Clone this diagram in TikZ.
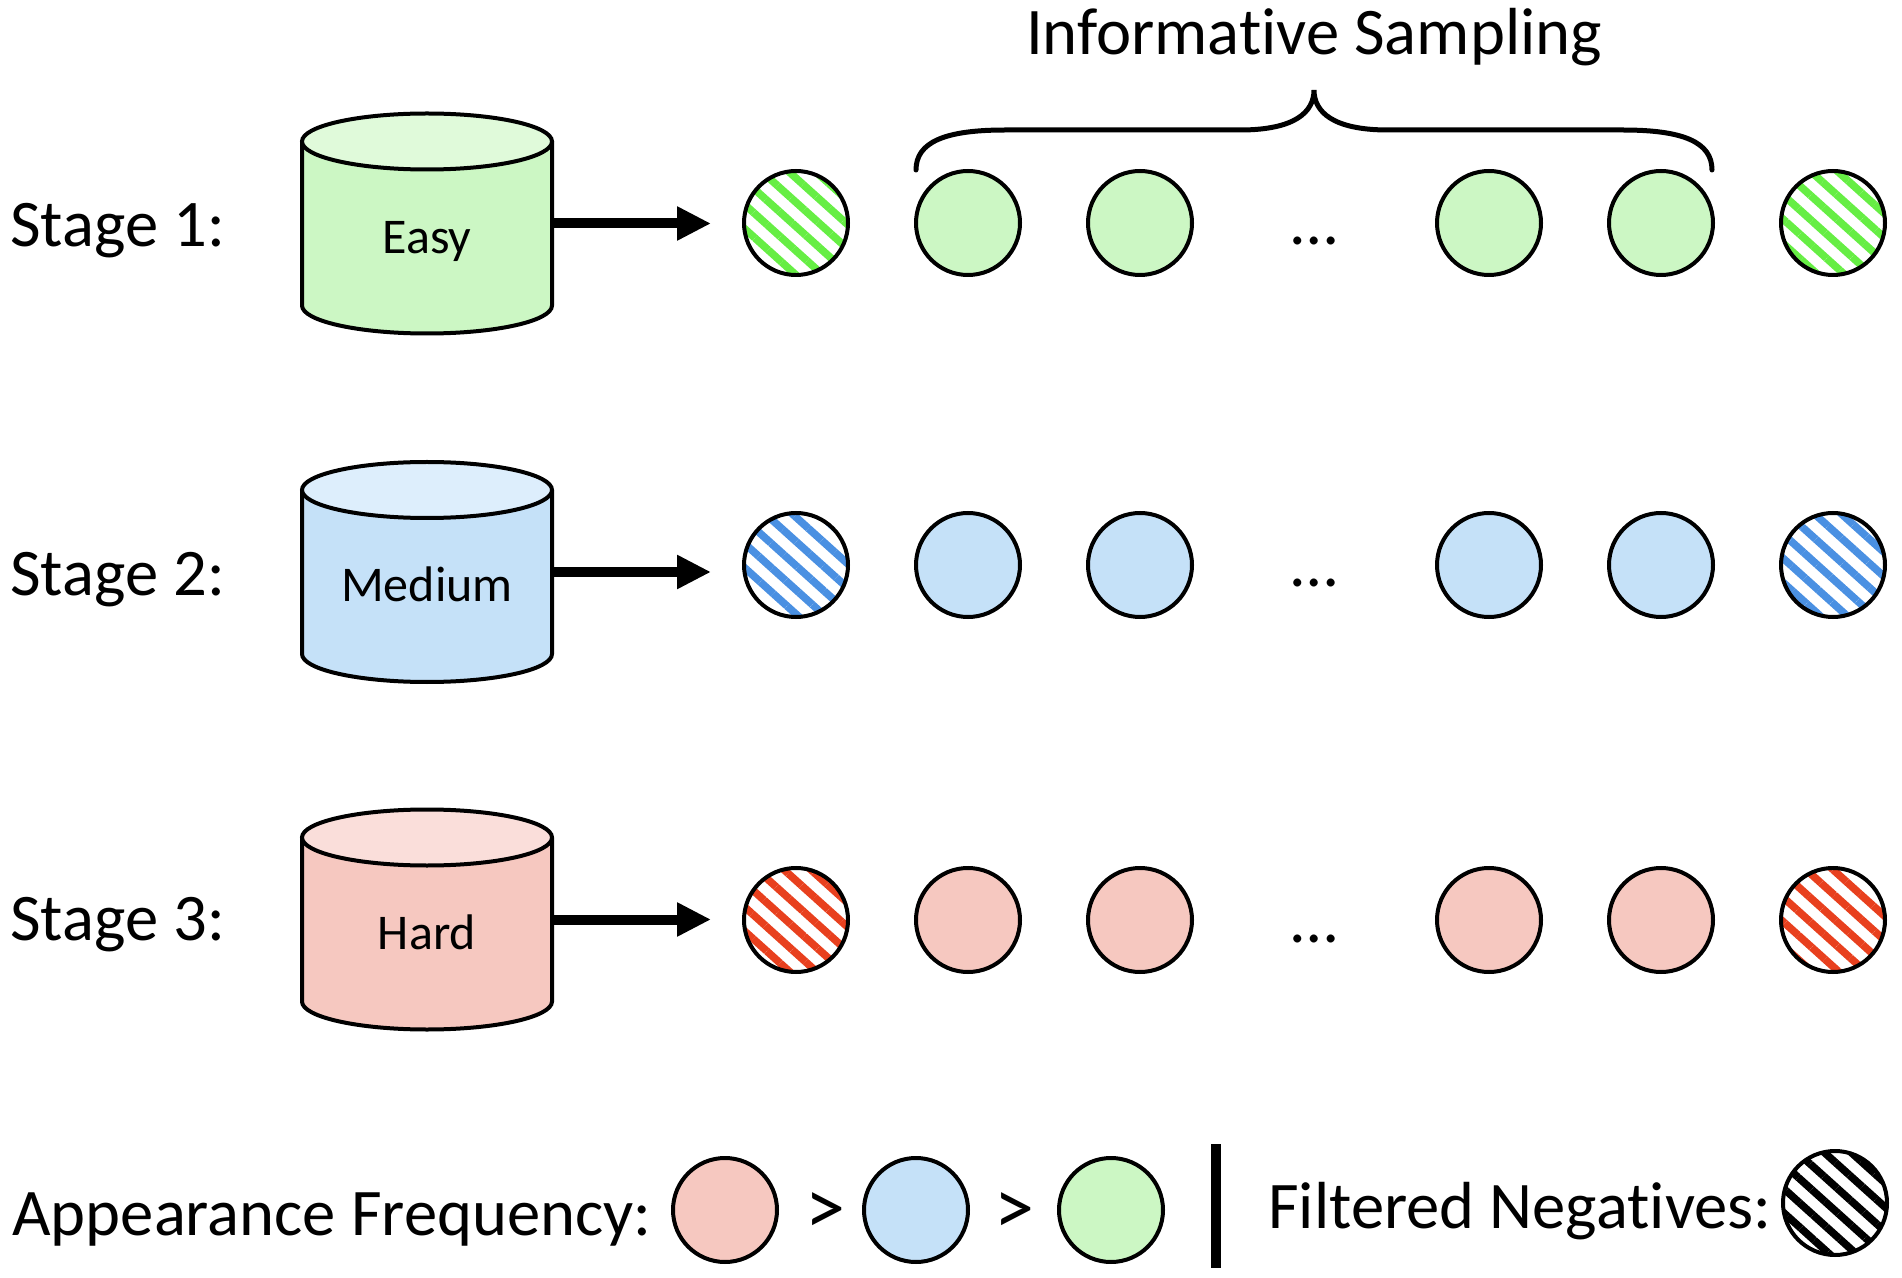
\documentclass[tikz,border=0pt]{standalone}
\usepackage{fontspec}
\setmainfont{Carlito}[Ligatures=NoCommon]
\usetikzlibrary{arrows.meta,positioning,patterns.meta}

\definecolor{easyfill}{HTML}{CCF7C4}
\definecolor{easytop}{HTML}{E0FADA}
\definecolor{easyline}{HTML}{66EE44}
\definecolor{medfill}{HTML}{C5E1F8}
\definecolor{medtop}{HTML}{DDEEFC}
\definecolor{medline}{HTML}{4A90E2}
\definecolor{hardfill}{HTML}{F6C8C0}
\definecolor{hardtop}{HTML}{FADEDA}
\definecolor{hardline}{HTML}{E8401E}

\begin{document}
\begin{tikzpicture}[x=0.5pt, y=0.5pt, node distance=34pt]
\tikzstyle{ball} = [shape=circle, draw=black, line width=2pt, minimum size=52pt, inner sep=0pt, outer sep=0pt];
\tikzstyle{hatch} = [ball, pattern={Lines[angle=-42, distance=9pt, line width=3.8pt]}];
\tikzstyle{rim} = [draw=black, line width=2pt];
\tikzstyle{dbbox} = [shape=rectangle, minimum width=125pt, minimum height=110pt, inner sep=0pt, outer sep=0pt];
\tikzstyle{big} = [font=\fontsize{33.3}{40}\selectfont, inner sep=0pt];
\tikzstyle{small} = [font=\fontsize{25}{30}\selectfont, inner sep=0pt];
\tikzstyle{arr} = [-{Triangle[length=17pt, width=16pt]}, line width=5pt];
\tikzstyle{brc} = [line width=2.5pt, line cap=round];

\useasboundingbox (0,0) rectangle (1902,-1278);

\node[big, anchor=base] (Title) at (1314,-55) {Informative Sampling};
\draw[brc] (916,-170) .. controls (916,-142) and (945,-130) .. (1005,-130) -- (1240,-130)
  .. controls (1295,-130) and (1314,-112) .. (1314,-90)
  .. controls (1314,-112) and (1333,-130) .. (1388,-130) -- (1623,-130)
  .. controls (1683,-130) and (1712,-142) .. (1712,-170);

\foreach \i/\txt/\clr/\cy/\ry/\by in {1/Easy/easy/-223.5/-223/-246.5, 2/Medium/med/-572/-565/-596, 3/Hard/hard/-919.5/-920/-940}{
  \node[big, anchor=base west] (Stage\i) at (10,\by) {Stage \i:};
  % database
  \path[fill=\clr fill] (302,\cy+82) -- (302,\cy-82) arc[start angle=180, end angle=360, x radius=125, y radius=28] -- (552,\cy+82) -- cycle;
  \draw[rim] (302,\cy+82) -- (302,\cy-82) arc[start angle=180, end angle=360, x radius=125, y radius=28] -- (552,\cy+82);
  \draw[rim, fill=\clr top] (427,\cy+82) ellipse[x radius=125, y radius=28];
  \node[dbbox] (db\i) at (427,\cy) {};
  \node[small, anchor=base] (lbl\i) at (427,\cy-30) {\txt};
  \draw[arr] (db\i.east) -- ++(159,0);
  % negatives
  \node[hatch, pattern color=\clr line] (c\i1) at (796,\ry) {};
  \node[ball, fill=\clr fill, right=of c\i1] (c\i2) {};
  \node[ball, fill=\clr fill, right=of c\i2] (c\i3) {};
  \node[big, anchor=base] (d\i) at (1314,\ry-22) {…};
  \node[ball, fill=\clr fill] (c\i4) at (1489,\ry) {};
  \node[ball, fill=\clr fill, right=of c\i4] (c\i5) {};
  \node[hatch, pattern color=\clr line, right=of c\i5] (c\i6) {};
}

% legend
\node[big, anchor=base west] (Freq) at (12,-1235) {Appearance Frequency:};
\node[ball, fill=hardfill] (f1) at (725,-1210) {};
\node[font=\fontsize{40}{46}\selectfont, inner sep=0pt] (gt1) at (825,-1214) {>};
\node[ball, fill=medfill] (f2) at (916,-1210) {};
\node[font=\fontsize{40}{46}\selectfont, inner sep=0pt] (gt2) at (1014,-1214) {>};
\node[ball, fill=easyfill] (f3) at (1111,-1210) {};
\draw[line width=5pt] (1216,-1144) -- (1216,-1268);
\node[big, anchor=base west] (Filt) at (1268,-1228) {Filtered Negatives:};
\node[hatch, pattern color=black] (f4) at (1835,-1203) {};
\end{tikzpicture}
\end{document}
